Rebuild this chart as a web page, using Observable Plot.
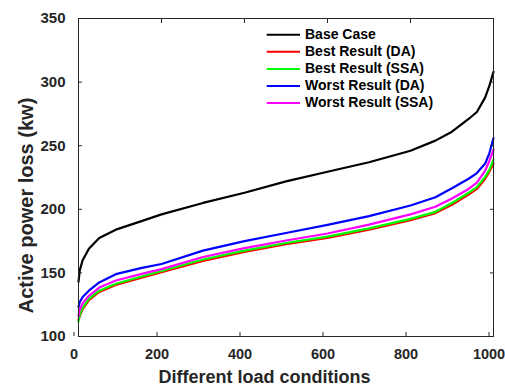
<!DOCTYPE html>
<html>
<head>
<meta charset="utf-8">
<script src="https://cdn.jsdelivr.net/npm/d3@7"></script>
<script src="https://cdn.jsdelivr.net/npm/@observablehq/plot@0.6"></script>
<style>
  html, body { margin: 0; padding: 0; background: #fff; }
  #chart { width: 505px; height: 386px; }
</style>
</head>
<body>
<div id="chart"></div>
<script>
// ---- data ----
const loadConditions = [0, 3, 10, 25, 50, 90, 150, 200, 300, 400, 500, 600, 700, 800, 860, 900, 940, 960, 980, 990, 1000];
const baseCase  = [143, 152, 160, 169, 177.5, 184, 190.5, 196, 205, 213, 222, 229.5, 237, 246, 254, 261, 271, 276.5, 288, 297, 308];
const bestDA    = [113, 116, 121.5, 128.5, 135, 140.5, 146, 150.5, 159.5, 166.5, 172.5, 177.5, 184, 191.5, 197, 203.5, 211.5, 216, 224, 229.5, 236];
const bestSSA   = [112, 117, 122.5, 129.5, 136, 141.5, 147, 151.5, 160.5, 167.5, 173.5, 178.5, 185, 192.5, 198, 205, 213, 217.5, 225.5, 231, 239];
const worstDA   = [123, 127, 131, 136, 142.5, 149, 153.7, 157, 167.5, 175, 181.4, 187.8, 194.6, 203, 209.5, 216.5, 224, 228.5, 236, 244, 256];
const worstSSA  = [116, 121, 126, 132, 138.5, 144, 149, 153, 162.5, 169.5, 175.5, 181, 188, 196, 202, 208.5, 216, 221, 230.5, 238, 247];

const seriesNames  = ["Base Case", "Best Result (DA)", "Best Result (SSA)", "Worst Result (DA)", "Worst Result (SSA)"];
const seriesColors = ["#000000", "#ff0000", "#00ff00", "#0000ff", "#ff00ff"];
const xTicks = [0, 200, 400, 600, 800, 1000];
const yTicks = [100, 150, 200, 250, 300, 350];
const xLabel = "Different load conditions";
const yLabel = "Active power loss (kw)";

// ---- build table ----
const seriesValues = [baseCase, bestDA, bestSSA, worstDA, worstSSA];
const rows = seriesNames.flatMap((name, i) =>
  loadConditions.map((x, j) => ({series: name, x, y: seriesValues[i][j]}))
);

const font = "'Liberation Sans', Arial, Helvetica, sans-serif";
const ink = "#262626";
const fmt = d => String(d);

const plot = Plot.plot({
  width: 505,
  height: 386,
  marginLeft: 78,
  marginRight: 12,
  marginTop: 18,
  marginBottom: 50,
  style: {fontFamily: font, fontWeight: "bold", color: ink, background: "#fff", overflow: "visible"},
  x: {domain: [0, 1000]},
  y: {domain: [100, 350]},
  color: {domain: seriesNames, range: seriesColors},
  marks: [
    Plot.line(rows, {x: "x", y: "y", z: "series", stroke: "series", strokeWidth: 2.2, strokeLinejoin: "round"}),
    Plot.frame({stroke: ink, strokeWidth: 1}),
    Plot.axisX(xTicks, {anchor: "bottom", tickSize: -4, tickPadding: 16, tickFormat: fmt, fontSize: 14.5, fontWeight: "bold", dx: -4.5, label: null, stroke: ink}),
    Plot.axisX(xTicks, {anchor: "top", tickSize: -4, tickFormat: () => "", label: null, stroke: ink}),
    Plot.axisY(yTicks, {anchor: "left", tickSize: -4, tickPadding: 17, tickFormat: fmt, fontSize: 15, fontWeight: "bold", label: null, stroke: ink}),
    Plot.axisY(yTicks, {anchor: "right", tickSize: -4, tickFormat: () => "", label: null, stroke: ink}),
    Plot.text([xLabel], {text: d => d, frameAnchor: "bottom", textAnchor: "middle", lineAnchor: "bottom", dy: 46.5, dx: -21.5, fontSize: 18, fontWeight: "bold", fill: ink}),
    Plot.text([yLabel], {text: d => d, frameAnchor: "left", textAnchor: "middle", lineAnchor: "bottom", rotate: -90, dx: -46, dy: 28, fontSize: 20, fontWeight: "bold", fill: ink})
  ]
});

// ---- legend (inside the axes, top right, no box) ----
const svg = d3.select(plot);
const lg = svg.append("g")
  .attr("font-family", font).attr("font-weight", "bold").attr("font-size", 14)
  .attr("text-anchor", "start");
seriesNames.forEach((name, i) => {
  const y = 34.7 + i * 17.1;
  lg.append("line")
    .attr("x1", 266.7).attr("x2", 300).attr("y1", y).attr("y2", y)
    .attr("stroke", seriesColors[i]).attr("stroke-width", 2);
  lg.append("text")
    .attr("x", 305).attr("y", y).attr("dy", "0.3em")
    .attr("text-anchor", "start")
    .attr("fill", "#000").text(name);
});

document.getElementById("chart").appendChild(plot);
</script>
</body>
</html>
